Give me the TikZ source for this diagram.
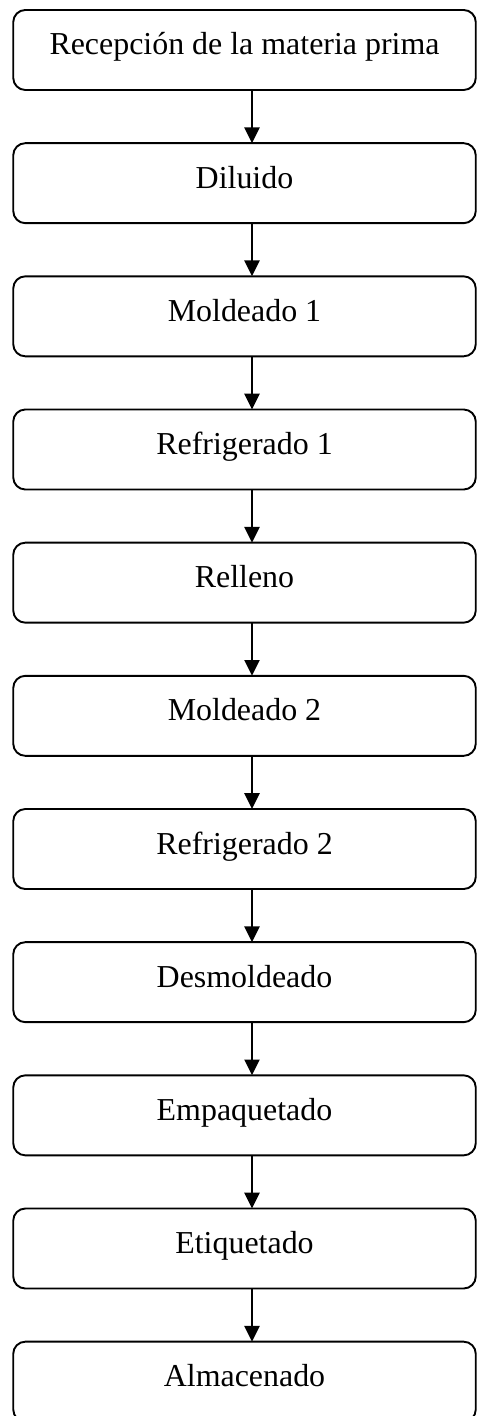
\documentclass[tikz,border=0pt]{standalone}
\usepackage{fontspec}
\setmainfont{Liberation Serif}
\usepackage{tikz}
\usetikzlibrary{positioning}
\usetikzlibrary{shapes.geometric, arrows.meta}
\tikzstyle{arrow} = [line width=0.85pt,-{Triangle[length=0.19cm,width=0.18cm]}]
\tikzstyle{stepbox} = [draw,line width=0.65pt,rounded corners=0.145cm,minimum width=5.55cm,minimum height=0.96cm,inner sep=0pt,outer sep=0pt,text height=0.25cm,text depth=0.13cm,font=\fontsize{10.9}{13}\selectfont]

\begin{document}
\begin{tikzpicture}[node distance=0.638cm]
	\useasboundingbox (0,0) rectangle (5.724,-16.992);
	\coordinate (start) at (2.934,-0.12);

	%Nodes
	\node [stepbox, below=0pt of start] (Rec) {Recepción de la materia prima};
	\node [stepbox, below=of Rec] (Dil) {Diluido};
	\node [stepbox, below=of Dil] (Mol1) {Moldeado 1};
	\node [stepbox, below=of Mol1] (Ref1) {Refrigerado 1};
	\node [stepbox, below=of Ref1] (Rel) {Relleno};
	\node [stepbox, below=of Rel] (Mol2) {Moldeado 2};
	\node [stepbox, below=of Mol2] (Ref2) {Refrigerado 2};
	\node [stepbox, below=of Ref2] (Des) {Desmoldeado};
	\node [stepbox, below=of Des] (Emp) {Empaquetado};
	\node [stepbox, below=of Emp] (Eti) {Etiquetado};
	\node [stepbox, below=of Eti] (Alm) {Almacenado};

	%Lines
	\draw[arrow] ([xshift=0.09cm]Rec.south) -- ([xshift=0.09cm]Dil.north);
	\draw[arrow] ([xshift=0.09cm]Dil.south) -- ([xshift=0.09cm]Mol1.north);
	\draw[arrow] ([xshift=0.09cm]Mol1.south) -- ([xshift=0.09cm]Ref1.north);
	\draw[arrow] ([xshift=0.09cm]Ref1.south) -- ([xshift=0.09cm]Rel.north);
	\draw[arrow] ([xshift=0.09cm]Rel.south) -- ([xshift=0.09cm]Mol2.north);
	\draw[arrow] ([xshift=0.09cm]Mol2.south) -- ([xshift=0.09cm]Ref2.north);
	\draw[arrow] ([xshift=0.09cm]Ref2.south) -- ([xshift=0.09cm]Des.north);
	\draw[arrow] ([xshift=0.09cm]Des.south) -- ([xshift=0.09cm]Emp.north);
	\draw[arrow] ([xshift=0.09cm]Emp.south) -- ([xshift=0.09cm]Eti.north);
	\draw[arrow] ([xshift=0.09cm]Eti.south) -- ([xshift=0.09cm]Alm.north);

\end{tikzpicture}
\end{document}
